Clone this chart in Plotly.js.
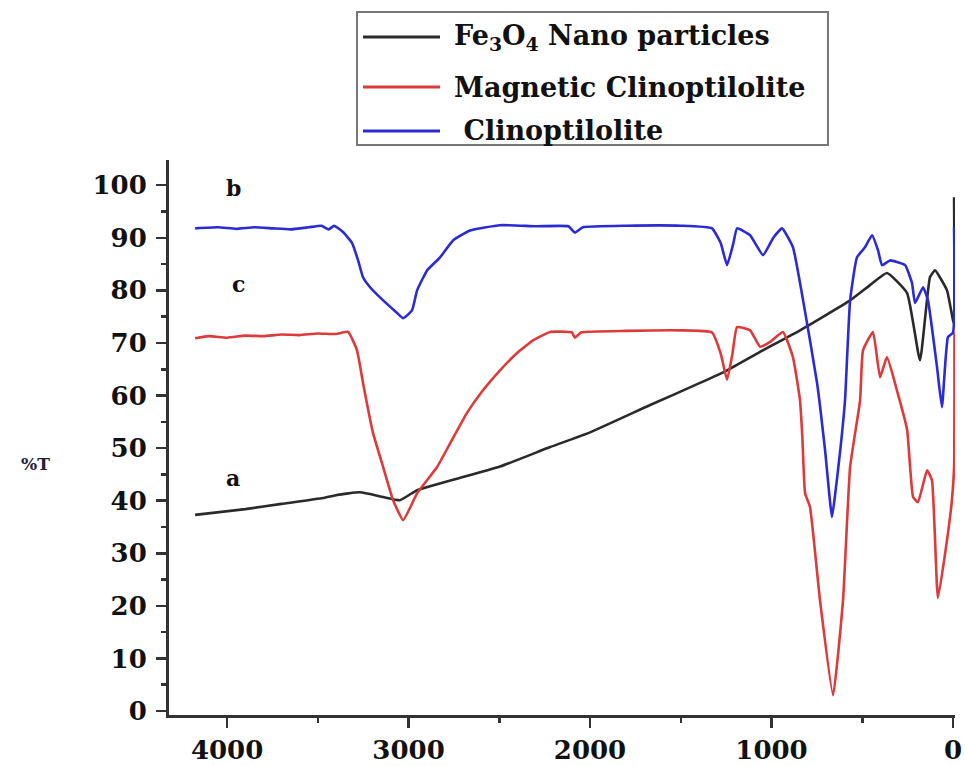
<!DOCTYPE html>
<html>
<head>
<meta charset="utf-8">
<script src="https://cdn.plot.ly/plotly-3.0.1.min.js"></script>
<style>html,body{margin:0;padding:0;background:#fff}#chart{width:965px;height:766px}</style>
</head>
<body>
<div id="chart"></div>
<script>
// Fe3O4 nano particles (curve a)
const feX = [4176, 3900, 3700, 3471, 3394, 3267, 3140, 3047, 2953, 2700, 2496, 2220, 2000, 1669, 1394, 1245, 1063, 843, 567, 457, 364, 253, 182, 127, 99, 33, -4, -6];
const feY = [37.3, 38.4, 39.4, 40.5, 41.1, 41.6, 40.7, 40.1, 42.0, 44.5, 46.5, 50.2, 53.0, 58.2, 62.4, 64.8, 68.3, 72.4, 78.1, 81.0, 83.3, 79.5, 66.7, 82.5, 83.8, 80.0, 73.8, 97.7];

// Magnetic Clinoptilolite (curve c)
const magX = [4176, 4100, 4000, 3900, 3800, 3700, 3600, 3500, 3400, 3333, 3284, 3251, 3196, 3140, 3085, 3030, 2953, 2843, 2771, 2678, 2590, 2496, 2402, 2314, 2220, 2100, 2083, 2050, 1800, 1500, 1328, 1280, 1245, 1215, 1190, 1118, 1063, 1008, 937, 882, 843, 830, 815, 788, 733, 661, 606, 567, 512, 496, 441, 402, 364, 309, 253, 220, 193, 143, 116, 83, 33, 6, -6, -8];
const magY = [70.9, 71.3, 71.0, 71.4, 71.3, 71.6, 71.5, 71.8, 71.7, 72.1, 68.6, 62.4, 52.9, 46.4, 40.1, 36.3, 41.4, 46.4, 50.9, 56.7, 61.0, 64.8, 68.1, 70.5, 72.1, 72.0, 71.0, 72.0, 72.3, 72.4, 72.0, 68.0, 63.0, 68.0, 73.0, 72.4, 69.3, 70.2, 72.1, 67.3, 59.1, 52.0, 41.4, 38.8, 21.1, 3.0, 21.1, 46.4, 59.1, 68.6, 72.1, 63.5, 67.3, 61.0, 53.5, 40.7, 39.7, 45.8, 43.9, 21.5, 32.5, 40.1, 46.4, 72.0];

// Clinoptilolite (curve b)
const cliX = [4176, 4050, 3950, 3850, 3750, 3650, 3550, 3480, 3440, 3410, 3361, 3311, 3278, 3251, 3212, 3140, 3063, 3030, 2981, 2953, 2898, 2826, 2755, 2661, 2496, 2300, 2120, 2083, 2040, 1800, 1500, 1328, 1280, 1245, 1210, 1190, 1118, 1047, 990, 942, 882, 826, 749, 705, 667, 650, 620, 595, 567, 529, 485, 446, 413, 391, 347, 264, 226, 209, 165, 138, 88, 61, 28, 0, -6];
const cliY = [91.8, 92.0, 91.7, 92.0, 91.8, 91.6, 92.0, 92.3, 91.6, 92.3, 91.1, 89.0, 85.7, 82.5, 80.6, 78.1, 75.7, 74.7, 76.2, 80.0, 83.8, 86.3, 89.5, 91.4, 92.4, 92.2, 92.2, 91.0, 92.0, 92.3, 92.3, 91.8, 89.0, 84.8, 89.0, 91.8, 90.5, 86.7, 90.0, 91.8, 88.2, 78.1, 62.4, 49.6, 36.9, 41.0, 50.0, 59.1, 78.1, 86.3, 88.2, 90.5, 87.6, 84.8, 85.7, 84.8, 81.4, 77.6, 80.6, 78.1, 65.4, 57.8, 71.1, 72.0, 92.0];

const seriesNames = ["Fe<sub>3</sub>O<sub>4</sub> Nano particles", "Magnetic Clinoptilolite", " Clinoptilolite"];
const seriesColors = ["#2a2a2a", "#dd3b3b", "#2b2bd6"];
const curveLabels = ["a", "c", "b"];
const labelX = [3967, 3939, 3967];
const labelY = [44.3, 81.2, 99.4];
const xTicks = [0, 1000, 2000, 3000, 4000];
const yTicks = [0, 10, 20, 30, 40, 50, 60, 70, 80, 90, 100];

const FONT = "DejaVu Serif, Liberation Serif, serif";
const xs = [feX, magX, cliX], ys = [feY, magY, cliY];
const traces = xs.map((x, i) => ({
  x: x, y: ys[i], type: "scatter", mode: "lines", name: seriesNames[i],
  line: {color: seriesColors[i], width: 2.6, shape: "spline", smoothing: 0.4},
  showlegend: false, hoverinfo: "skip"
}));

// manual legend (paper coords)
const legY = [1.2216, 1.1315, 1.0523];
const legTextX = [0.3601, 0.3601, 0.3601];
const shapes = [{type: "rect", xref: "paper", yref: "paper", x0: 0.2392, x1: 0.8384, y0: 1.027, y1: 1.2667,
  line: {color: "#777", width: 2}, fillcolor: "rgba(0,0,0,0)"}];
const annotations = [];
for (let i = 0; i < 3; i++) {
  shapes.push({type: "line", xref: "paper", yref: "paper", x0: 0.2468, x1: 0.3448, y0: legY[i], y1: legY[i],
    line: {color: seriesColors[i], width: 3}});
  annotations.push({xref: "paper", yref: "paper", x: legTextX[i], y: legY[i], xanchor: "left", yanchor: "middle",
    text: seriesNames[i], showarrow: false, font: {family: FONT, size: 27, color: "#111", weight: "bold"}});
  annotations.push({x: labelX[i], y: labelY[i], xref: "x", yref: "y", text: curveLabels[i], showarrow: false,
    xanchor: "center", yanchor: "middle", font: {family: FONT, size: 22, color: "#111", weight: "bold"}});
}
annotations.push({xref: "paper", yref: "paper", x: -0.17, y: 0.453, text: "%T", showarrow: false,
  xanchor: "center", yanchor: "middle", font: {family: FONT, size: 17, color: "#1c2433", weight: "bold"}});

const layout = {
  width: 965, height: 766,
  margin: {l: 169, r: 10, t: 160, b: 51},
  paper_bgcolor: "#fff", plot_bgcolor: "#fff",
  showlegend: false,
  xaxis: {range: [4320, -11], tickvals: xTicks, ticktext: xTicks.map(String), showgrid: false, zeroline: false,
    showline: true, linecolor: "#333", linewidth: 3, ticks: "outside", ticklen: 10, tickwidth: 2.5, tickcolor: "#333",
    tickfont: {family: FONT, size: 26, color: "#111", weight: "bold"},
    minor: {dtick: 500, tick0: 0, ticks: "outside", ticklen: 5, tickwidth: 2.5, tickcolor: "#333"}},
  yaxis: {range: [-0.76, 104.8], tickvals: yTicks, ticktext: yTicks.map(String), showgrid: false, zeroline: false,
    showline: true, linecolor: "#333", linewidth: 3, ticks: "outside", ticklen: 10, tickwidth: 2.5, tickcolor: "#333",
    tickfont: {family: FONT, size: 26, color: "#111", weight: "bold"}, ticklabelstandoff: 4,
    minor: {dtick: 5, tick0: 0, ticks: "outside", ticklen: 5, tickwidth: 2.5, tickcolor: "#333"}},
  shapes: shapes,
  annotations: annotations
};
Plotly.newPlot("chart", traces, layout, {displayModeBar: false, staticPlot: true});
</script>
</body>
</html>
